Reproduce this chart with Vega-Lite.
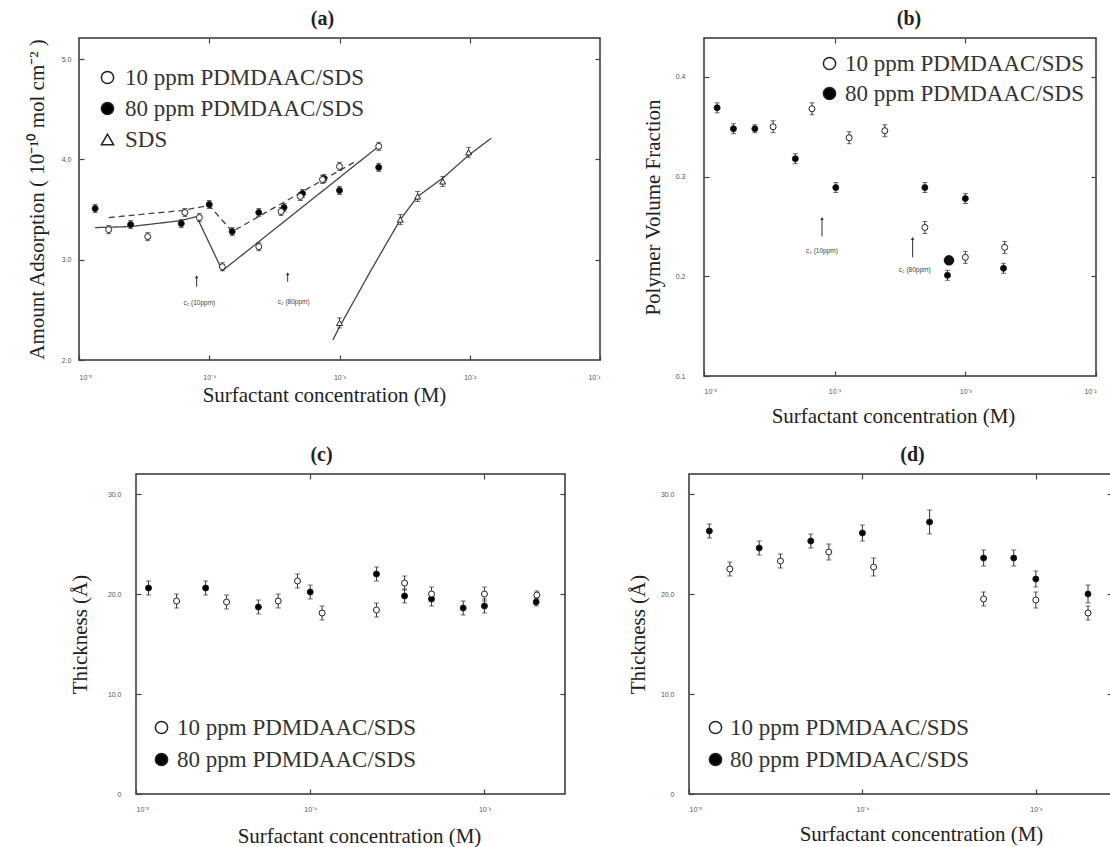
{
  "$schema": "https://vega.github.io/schema/vega-lite/v6.json",
  "padding": {"left": 24, "top": 8, "right": 0, "bottom": 0},
  "background": "white",
  "config": {
    "font": "Liberation Serif",
    "view": {"stroke": "#333", "strokeWidth": 1.5},
    "axis": {"domain": false, "grid": false, "tickSize": -5, "tickColor": "#444", "tickWidth": 1.2, "labelFontSize": 7, "labelColor": "#555", "labelFont": "Liberation Sans", "titleFontSize": 21, "titleFontWeight": "normal", "titleColor": "#222", "titleFont": "Liberation Serif"},
    "title": {"fontSize": 20, "fontWeight": "bold", "font": "Liberation Serif", "color": "#222", "offset": 8, "baseline": "bottom", "frame": "group"},
    "legend": {"labelFont": "Liberation Serif", "labelFontSize": 23, "labelColor": "#333", "labelLimit": 0, "symbolSize": 150, "padding": 0, "titlePadding": 0},
    "point": {"opacity": 1}
  },
  "datasets": {
    "a_pts": [
      {"x": 1.33e-5, "y": 3.51, "s": "80 ppm PDMDAAC/SDS", "e": 0.04},
      {"x": 2.49e-5, "y": 3.35, "s": "80 ppm PDMDAAC/SDS", "e": 0.04},
      {"x": 6.1e-5, "y": 3.36, "s": "80 ppm PDMDAAC/SDS", "e": 0.04},
      {"x": 1.0e-4, "y": 3.55, "s": "80 ppm PDMDAAC/SDS", "e": 0.04},
      {"x": 1.5e-4, "y": 3.28, "s": "80 ppm PDMDAAC/SDS", "e": 0.04},
      {"x": 2.4e-4, "y": 3.47, "s": "80 ppm PDMDAAC/SDS", "e": 0.04},
      {"x": 3.75e-4, "y": 3.52, "s": "80 ppm PDMDAAC/SDS", "e": 0.04},
      {"x": 5.2e-4, "y": 3.66, "s": "80 ppm PDMDAAC/SDS", "e": 0.04},
      {"x": 7.6e-4, "y": 3.81, "s": "80 ppm PDMDAAC/SDS", "e": 0.04},
      {"x": 1.0e-3, "y": 3.69, "s": "80 ppm PDMDAAC/SDS", "e": 0.04},
      {"x": 2.0e-3, "y": 3.92, "s": "80 ppm PDMDAAC/SDS", "e": 0.04},
      {"x": 1.69e-5, "y": 3.30, "s": "10 ppm PDMDAAC/SDS", "e": 0.04},
      {"x": 3.37e-5, "y": 3.23, "s": "10 ppm PDMDAAC/SDS", "e": 0.04},
      {"x": 6.5e-5, "y": 3.47, "s": "10 ppm PDMDAAC/SDS", "e": 0.04},
      {"x": 8.4e-5, "y": 3.42, "s": "10 ppm PDMDAAC/SDS", "e": 0.04},
      {"x": 1.26e-4, "y": 2.93, "s": "10 ppm PDMDAAC/SDS", "e": 0.04},
      {"x": 2.4e-4, "y": 3.13, "s": "10 ppm PDMDAAC/SDS", "e": 0.04},
      {"x": 3.56e-4, "y": 3.48, "s": "10 ppm PDMDAAC/SDS", "e": 0.04},
      {"x": 5.0e-4, "y": 3.63, "s": "10 ppm PDMDAAC/SDS", "e": 0.04},
      {"x": 7.4e-4, "y": 3.80, "s": "10 ppm PDMDAAC/SDS", "e": 0.04},
      {"x": 1.0e-3, "y": 3.93, "s": "10 ppm PDMDAAC/SDS", "e": 0.04},
      {"x": 2.0e-3, "y": 4.13, "s": "10 ppm PDMDAAC/SDS", "e": 0.04},
      {"x": 1.0e-3, "y": 2.37, "s": "SDS", "e": 0.05},
      {"x": 2.93e-3, "y": 3.40, "s": "SDS", "e": 0.05},
      {"x": 3.98e-3, "y": 3.63, "s": "SDS", "e": 0.05},
      {"x": 6.2e-3, "y": 3.78, "s": "SDS", "e": 0.05},
      {"x": 9.8e-3, "y": 4.07, "s": "SDS", "e": 0.05}
    ],
    "a_lines": [
      {"curve": "10 ppm fit", "x": 1.33e-5, "y": 3.32},
      {"curve": "10 ppm fit", "x": 2.49e-5, "y": 3.33},
      {"curve": "10 ppm fit", "x": 6.1e-5, "y": 3.39},
      {"curve": "10 ppm fit", "x": 8.0e-5, "y": 3.43},
      {"curve": "10 ppm fit", "x": 1.26e-4, "y": 2.89},
      {"curve": "10 ppm fit", "x": 2.0e-3, "y": 4.13},
      {"curve": "80 ppm fit", "x": 1.69e-5, "y": 3.42},
      {"curve": "80 ppm fit", "x": 6.1e-5, "y": 3.49},
      {"curve": "80 ppm fit", "x": 1.0e-4, "y": 3.54},
      {"curve": "80 ppm fit", "x": 1.5e-4, "y": 3.28},
      {"curve": "80 ppm fit", "x": 1.29e-3, "y": 3.97},
      {"curve": "SDS fit", "x": 8.9e-4, "y": 2.20},
      {"curve": "SDS fit", "x": 1.0e-3, "y": 2.33},
      {"curve": "SDS fit", "x": 1.72e-3, "y": 2.88},
      {"curve": "SDS fit", "x": 2.93e-3, "y": 3.40},
      {"curve": "SDS fit", "x": 3.98e-3, "y": 3.63},
      {"curve": "SDS fit", "x": 6.3e-3, "y": 3.82},
      {"curve": "SDS fit", "x": 1.0e-2, "y": 4.05},
      {"curve": "SDS fit", "x": 1.46e-2, "y": 4.21}
    ],
    "a_ann": [
      {"x": 8.0e-5, "y0": 2.73, "y1": 2.83, "lab": "c₂ (10ppm)", "lx": 8.4e-5, "ly": 2.57},
      {"x": 4.0e-4, "y0": 2.78, "y1": 2.86, "lab": "c₂ (80ppm)", "lx": 4.45e-4, "ly": 2.58}
    ],
    "b_pts": [
      {"x": 1.26e-5, "y": 0.369, "s": "80 ppm PDMDAAC/SDS", "e": 0.005},
      {"x": 1.68e-5, "y": 0.348, "s": "80 ppm PDMDAAC/SDS", "e": 0.005},
      {"x": 2.45e-5, "y": 0.348, "s": "80 ppm PDMDAAC/SDS", "e": 0.004},
      {"x": 5.0e-5, "y": 0.318, "s": "80 ppm PDMDAAC/SDS", "e": 0.005},
      {"x": 1.02e-4, "y": 0.289, "s": "80 ppm PDMDAAC/SDS", "e": 0.005},
      {"x": 4.9e-4, "y": 0.289, "s": "80 ppm PDMDAAC/SDS", "e": 0.005},
      {"x": 1.0e-3, "y": 0.278, "s": "80 ppm PDMDAAC/SDS", "e": 0.005},
      {"x": 7.3e-4, "y": 0.201, "s": "80 ppm PDMDAAC/SDS", "e": 0.005},
      {"x": 1.96e-3, "y": 0.208, "s": "80 ppm PDMDAAC/SDS", "e": 0.005},
      {"x": 3.38e-5, "y": 0.350, "s": "10 ppm PDMDAAC/SDS", "e": 0.006},
      {"x": 6.7e-5, "y": 0.368, "s": "10 ppm PDMDAAC/SDS", "e": 0.006},
      {"x": 1.29e-4, "y": 0.339, "s": "10 ppm PDMDAAC/SDS", "e": 0.006},
      {"x": 2.42e-4, "y": 0.346, "s": "10 ppm PDMDAAC/SDS", "e": 0.006},
      {"x": 4.9e-4, "y": 0.249, "s": "10 ppm PDMDAAC/SDS", "e": 0.006},
      {"x": 1.0e-3, "y": 0.219, "s": "10 ppm PDMDAAC/SDS", "e": 0.006},
      {"x": 2.0e-3, "y": 0.229, "s": "10 ppm PDMDAAC/SDS", "e": 0.006}
    ],
    "b_big": [
      {"x": 7.5e-4, "y": 0.216}
    ],
    "b_ann": [
      {"x": 8.0e-5, "y0": 0.240, "y1": 0.258, "lab": "c₂ (10ppm)", "lx": 8.0e-5, "ly": 0.2257},
      {"x": 3.95e-4, "y0": 0.219, "y1": 0.238, "lab": "c₂ (80ppm)", "lx": 4.1e-4, "ly": 0.2067}
    ],
    "c_pts": [
      {"x": 1.18e-5, "y": 20.6, "s": "80 ppm PDMDAAC/SDS", "e": 0.7},
      {"x": 2.51e-5, "y": 20.6, "s": "80 ppm PDMDAAC/SDS", "e": 0.7},
      {"x": 5.04e-5, "y": 18.7, "s": "80 ppm PDMDAAC/SDS", "e": 0.7},
      {"x": 1.0e-4, "y": 20.2, "s": "80 ppm PDMDAAC/SDS", "e": 0.7},
      {"x": 2.4e-4, "y": 22.0, "s": "80 ppm PDMDAAC/SDS", "e": 0.7},
      {"x": 3.48e-4, "y": 19.8, "s": "80 ppm PDMDAAC/SDS", "e": 0.7},
      {"x": 4.97e-4, "y": 19.5, "s": "80 ppm PDMDAAC/SDS", "e": 0.7},
      {"x": 7.55e-4, "y": 18.6, "s": "80 ppm PDMDAAC/SDS", "e": 0.7},
      {"x": 1.0e-3, "y": 18.8, "s": "80 ppm PDMDAAC/SDS", "e": 0.7},
      {"x": 1.98e-3, "y": 19.2, "s": "80 ppm PDMDAAC/SDS", "e": 0.4},
      {"x": 1.71e-5, "y": 19.3, "s": "10 ppm PDMDAAC/SDS", "e": 0.7},
      {"x": 3.31e-5, "y": 19.2, "s": "10 ppm PDMDAAC/SDS", "e": 0.7},
      {"x": 6.55e-5, "y": 19.3, "s": "10 ppm PDMDAAC/SDS", "e": 0.7},
      {"x": 8.45e-5, "y": 21.3, "s": "10 ppm PDMDAAC/SDS", "e": 0.7},
      {"x": 1.17e-4, "y": 18.1, "s": "10 ppm PDMDAAC/SDS", "e": 0.7},
      {"x": 2.4e-4, "y": 18.4, "s": "10 ppm PDMDAAC/SDS", "e": 0.7},
      {"x": 3.48e-4, "y": 21.1, "s": "10 ppm PDMDAAC/SDS", "e": 0.7},
      {"x": 4.97e-4, "y": 20.0, "s": "10 ppm PDMDAAC/SDS", "e": 0.7},
      {"x": 1.0e-3, "y": 20.0, "s": "10 ppm PDMDAAC/SDS", "e": 0.7},
      {"x": 2.0e-3, "y": 19.9, "s": "10 ppm PDMDAAC/SDS", "e": 0.4}
    ],
    "d_pts": [
      {"x": 1.31e-5, "y": 26.3, "s": "80 ppm PDMDAAC/SDS", "e": 0.7},
      {"x": 2.54e-5, "y": 24.6, "s": "80 ppm PDMDAAC/SDS", "e": 0.7},
      {"x": 5.04e-5, "y": 25.3, "s": "80 ppm PDMDAAC/SDS", "e": 0.7},
      {"x": 1.0e-4, "y": 26.1, "s": "80 ppm PDMDAAC/SDS", "e": 0.8},
      {"x": 2.44e-4, "y": 27.2, "s": "80 ppm PDMDAAC/SDS", "e": 1.2},
      {"x": 5.0e-4, "y": 23.6, "s": "80 ppm PDMDAAC/SDS", "e": 0.8},
      {"x": 7.46e-4, "y": 23.6, "s": "80 ppm PDMDAAC/SDS", "e": 0.8},
      {"x": 1.0e-3, "y": 21.5, "s": "80 ppm PDMDAAC/SDS", "e": 0.8},
      {"x": 2.0e-3, "y": 20.0, "s": "80 ppm PDMDAAC/SDS", "e": 0.9},
      {"x": 1.72e-5, "y": 22.5, "s": "10 ppm PDMDAAC/SDS", "e": 0.7},
      {"x": 3.37e-5, "y": 23.3, "s": "10 ppm PDMDAAC/SDS", "e": 0.7},
      {"x": 6.4e-5, "y": 24.2, "s": "10 ppm PDMDAAC/SDS", "e": 0.8},
      {"x": 1.16e-4, "y": 22.7, "s": "10 ppm PDMDAAC/SDS", "e": 0.9},
      {"x": 5.0e-4, "y": 19.5, "s": "10 ppm PDMDAAC/SDS", "e": 0.7},
      {"x": 1.0e-3, "y": 19.4, "s": "10 ppm PDMDAAC/SDS", "e": 0.8},
      {"x": 2.0e-3, "y": 18.1, "s": "10 ppm PDMDAAC/SDS", "e": 0.7}
    ]
  },
  "spacing": 17,
  "resolve": {"scale": {"shape": "independent", "fill": "independent", "strokeDash": "independent"}, "legend": {"shape": "independent", "fill": "independent"}},
  "vconcat": [
    {
      "spacing": 39,
      "resolve": {"scale": {"shape": "independent", "fill": "independent"}, "legend": {"shape": "independent", "fill": "independent"}},
      "hconcat": [
        {
          "spacing": 0,
          "resolve": {"scale": {"shape": "independent", "fill": "independent"}, "legend": {"shape": "independent", "fill": "independent"}},
          "hconcat": [
            {"width": 1, "height": 1, "view": {"stroke": null}, "data": {"values": []}, "mark": "point", "encoding": {}},
            {
              "title": {"text": "(a)", "dx": -17},
              "width": 521,
              "height": 322,
              "resolve": {"axis": {"x": "independent", "y": "independent"}},
              "layer": [
                {
                  "data": {"name": "a_lines"},
                  "mark": {"type": "line", "color": "#444", "strokeWidth": 1.3},
                  "encoding": {
                    "x": {"field": "x", "type": "quantitative", "scale": {"type": "log", "domain": [1e-5, 0.1], "nice": false},
                      "axis": {"values": [1e-5, 1e-4, 1e-3, 1e-2, 1e-1], "labelExpr": "'10' + (datum.value < 5e-5 ? '⁻⁵' : datum.value < 5e-4 ? '⁻⁴' : datum.value < 5e-3 ? '⁻³' : datum.value < 5e-2 ? '⁻²' : '⁻¹')", "labelPadding": 18, "title": "Surfactant concentration (M)", "titleX": 245, "titleY": 35, "titleAlign": "center", "titleBaseline": "middle"}},
                    "y": {"field": "y", "type": "quantitative", "scale": {"domain": [2, 5.21], "nice": false, "zero": false},
                      "axis": {"values": [2, 3, 4, 5], "format": ".1f", "labelPadding": 13, "title": "Amount Adsorption ( 10⁻¹⁰ mol cm⁻² )", "titleX": -42, "titleBaseline": "middle"}},
                    "detail": {"field": "curve"},
                    "strokeDash": {"field": "curve", "scale": {"domain": ["10 ppm fit", "80 ppm fit", "SDS fit"], "range": [[1, 0], [6, 4], [1, 0]]}, "legend": null}
                  }
                },
                {
                  "data": {"name": "a_ann"},
                  "mark": {"type": "rule", "color": "#333", "strokeWidth": 1},
                  "encoding": {"x": {"field": "x", "type": "quantitative", "axis": null}, "y": {"field": "y0", "type": "quantitative", "axis": null}, "y2": {"field": "y1"}}
                },
                {
                  "data": {"name": "a_ann"},
                  "mark": {"type": "point", "shape": "triangle-up", "filled": true, "color": "#333", "size": 12},
                  "encoding": {"x": {"field": "x", "type": "quantitative", "axis": null}, "y": {"field": "y1", "type": "quantitative", "axis": null}}
                },
                {
                  "data": {"name": "a_ann"},
                  "mark": {"type": "text", "fontSize": 6.5, "color": "#444", "font": "Liberation Sans"},
                  "encoding": {"x": {"field": "lx", "type": "quantitative", "axis": null}, "y": {"field": "ly", "type": "quantitative", "axis": null}, "text": {"field": "lab"}}
                },
                {
                  "data": {"name": "a_pts"},
                  "mark": {"type": "errorbar", "ticks": {"size": 5}, "color": "#333"},
                  "encoding": {"x": {"field": "x", "type": "quantitative", "axis": null}, "y": {"field": "y", "type": "quantitative", "axis": null}, "yError": {"field": "e"}}
                },
                {
                  "data": {"name": "a_pts"},
                  "mark": {"type": "point", "filled": true, "size": 36, "stroke": "#222", "strokeWidth": 1, "opacity": 1},
                  "encoding": {
                    "x": {"field": "x", "type": "quantitative", "axis": {"orient": "top", "labels": false, "title": null, "values": [1e-4, 1e-3, 1e-2]}},
                    "y": {"field": "y", "type": "quantitative", "axis": {"orient": "right", "labels": false, "title": null, "values": [3, 4, 5]}},
                    "shape": {"field": "s", "scale": {"domain": ["10 ppm PDMDAAC/SDS", "80 ppm PDMDAAC/SDS", "SDS"], "range": ["circle", "circle", "triangle-up"]},
                      "legend": {"title": null, "orient": "none", "legendX": 17, "legendY": 28, "rowPadding": 7, "labelOffset": 6, "labelFont": "Liberation Serif", "labelFontSize": 23, "encode": {"symbols": {"update": {"stroke": {"value": "#444"}, "strokeWidth": {"value": 1.3}, "opacity": {"value": 1}}}}}},
                    "fill": {"field": "s", "scale": {"domain": ["10 ppm PDMDAAC/SDS", "80 ppm PDMDAAC/SDS", "SDS"], "range": ["white", "black", "white"]},
                      "legend": {"title": null, "orient": "none", "legendX": 17, "legendY": 28, "rowPadding": 7, "labelOffset": 6, "labelFont": "Liberation Serif", "labelFontSize": 23, "encode": {"symbols": {"update": {"stroke": {"value": "#444"}, "strokeWidth": {"value": 1.3}, "opacity": {"value": 1}}}}}}
                  }
                }
              ]
            }
          ]
        },
        {
          "title": {"text": "(b)", "dx": 9},
          "width": 392,
          "height": 338,
          "resolve": {"axis": {"x": "independent", "y": "independent"}},
          "layer": [
            {
              "data": {"name": "b_ann"},
              "mark": {"type": "rule", "color": "#333", "strokeWidth": 1},
              "encoding": {
                "x": {"field": "x", "type": "quantitative", "scale": {"type": "log", "domain": [1e-5, 1e-2], "nice": false},
                  "axis": {"values": [1e-5, 1e-4, 1e-3, 1e-2], "labelExpr": "'10' + (datum.value < 5e-5 ? '⁻⁵' : datum.value < 5e-4 ? '⁻⁴' : datum.value < 5e-3 ? '⁻³' : '⁻²')", "labelPadding": 16.5, "title": "Surfactant concentration (M)", "titleX": 189, "titleY": 40, "titleAlign": "center", "titleBaseline": "middle"}},
                "y": {"field": "y0", "type": "quantitative", "scale": {"domain": [0.1, 0.439], "nice": false, "zero": false},
                  "axis": {"values": [0.1, 0.2, 0.3, 0.4], "format": ".1f", "labelPadding": 24, "title": "Polymer Volume Fraction", "titleX": -51, "titleBaseline": "middle"}},
                "y2": {"field": "y1"}
              }
            },
            {
              "data": {"name": "b_ann"},
              "mark": {"type": "point", "shape": "triangle-up", "filled": true, "color": "#333", "size": 12},
              "encoding": {"x": {"field": "x", "type": "quantitative", "axis": null}, "y": {"field": "y1", "type": "quantitative", "axis": null}}
            },
            {
              "data": {"name": "b_ann"},
              "mark": {"type": "text", "fontSize": 6.5, "color": "#444", "font": "Liberation Sans"},
              "encoding": {"x": {"field": "lx", "type": "quantitative", "axis": null}, "y": {"field": "ly", "type": "quantitative", "axis": null}, "text": {"field": "lab"}}
            },
            {
              "data": {"name": "b_pts"},
              "mark": {"type": "errorbar", "ticks": {"size": 5}, "color": "#333"},
              "encoding": {"x": {"field": "x", "type": "quantitative", "axis": null}, "y": {"field": "y", "type": "quantitative", "axis": null}, "yError": {"field": "e"}}
            },
            {
              "data": {"name": "b_big"},
              "mark": {"type": "point", "filled": true, "size": 110, "color": "#111", "opacity": 1},
              "encoding": {"x": {"field": "x", "type": "quantitative", "axis": null}, "y": {"field": "y", "type": "quantitative", "axis": null}}
            },
            {
              "data": {"name": "b_pts"},
              "mark": {"type": "point", "filled": true, "size": 36, "stroke": "#222", "strokeWidth": 1, "opacity": 1},
              "encoding": {
                "x": {"field": "x", "type": "quantitative", "axis": {"orient": "top", "labels": false, "title": null, "values": [1e-4, 1e-3]}},
                "y": {"field": "y", "type": "quantitative", "axis": {"orient": "right", "labels": false, "title": null, "values": [0.2, 0.3, 0.4]}},
                "shape": {"field": "s", "scale": {"domain": ["10 ppm PDMDAAC/SDS", "80 ppm PDMDAAC/SDS"], "range": ["circle", "circle"]},
                  "legend": {"title": null, "orient": "none", "legendX": 114, "legendY": 14, "rowPadding": 6, "labelOffset": 4, "labelFont": "Liberation Serif", "labelFontSize": 23, "encode": {"symbols": {"update": {"stroke": {"value": "#444"}, "strokeWidth": {"value": 1.3}, "opacity": {"value": 1}}}}}},
                "fill": {"field": "s", "scale": {"domain": ["10 ppm PDMDAAC/SDS", "80 ppm PDMDAAC/SDS"], "range": ["white", "black"]},
                  "legend": {"title": null, "orient": "none", "legendX": 114, "legendY": 14, "rowPadding": 6, "labelOffset": 4, "labelFont": "Liberation Serif", "labelFontSize": 23, "encode": {"symbols": {"update": {"stroke": {"value": "#444"}, "strokeWidth": {"value": 1.3}, "opacity": {"value": 1}}}}}}
              }
            }
          ]
        }
      ]
    },
    {
      "spacing": 59,
      "resolve": {"scale": {"shape": "independent", "fill": "independent"}, "legend": {"shape": "independent", "fill": "independent"}},
      "hconcat": [
        {
          "spacing": 0,
          "resolve": {"scale": {"shape": "independent", "fill": "independent"}, "legend": {"shape": "independent", "fill": "independent"}},
          "hconcat": [
            {"width": 44, "height": 1, "view": {"stroke": null}, "data": {"values": []}, "mark": "point", "encoding": {}},
            {
              "title": {"text": "(c)", "dx": -29},
              "width": 429,
              "height": 320,
              "resolve": {"axis": {"x": "independent", "y": "independent"}},
              "layer": [
                {
                  "data": {"name": "c_pts"},
                  "mark": {"type": "errorbar", "ticks": {"size": 5}, "color": "#333"},
                  "encoding": {
                    "x": {"field": "x", "type": "quantitative", "scale": {"type": "log", "domain": [1e-5, 2.9e-3], "nice": false},
                      "axis": {"values": [1e-5, 1e-4, 1e-3], "labelExpr": "'10' + (datum.value < 5e-5 ? '⁻⁵' : datum.value < 5e-4 ? '⁻⁴' : '⁻³')", "labelPadding": 16.5, "title": "Surfactant concentration (M)", "titleX": 223, "titleY": 42, "titleAlign": "center", "titleBaseline": "middle"}},
                    "y": {"field": "y", "type": "quantitative", "scale": {"domain": [0, 32], "nice": false, "zero": false},
                      "axis": {"values": [0, 10, 20, 30], "labelExpr": "datum.value == 0 ? '0' : format(datum.value, '.1f')", "labelPadding": 20, "title": "Thickness (Å)", "titleX": -56, "titleBaseline": "middle"}},
                    "yError": {"field": "e"}
                  }
                },
                {
                  "data": {"name": "c_pts"},
                  "mark": {"type": "point", "filled": true, "size": 36, "stroke": "#222", "strokeWidth": 1, "opacity": 1},
                  "encoding": {
                    "x": {"field": "x", "type": "quantitative", "axis": {"orient": "top", "labels": false, "title": null, "values": [1e-4, 1e-3]}},
                    "y": {"field": "y", "type": "quantitative", "axis": {"orient": "right", "labels": false, "title": null, "values": [10, 20, 30]}},
                    "shape": {"field": "s", "scale": {"domain": ["10 ppm PDMDAAC/SDS", "80 ppm PDMDAAC/SDS"], "range": ["circle", "circle"]},
                      "legend": {"title": null, "orient": "none", "legendX": 14, "legendY": 242, "rowPadding": 8, "labelOffset": 4, "labelFont": "Liberation Serif", "labelFontSize": 23, "encode": {"symbols": {"update": {"stroke": {"value": "#444"}, "strokeWidth": {"value": 1.3}, "opacity": {"value": 1}}}}}},
                    "fill": {"field": "s", "scale": {"domain": ["10 ppm PDMDAAC/SDS", "80 ppm PDMDAAC/SDS"], "range": ["white", "black"]},
                      "legend": {"title": null, "orient": "none", "legendX": 14, "legendY": 242, "rowPadding": 8, "labelOffset": 4, "labelFont": "Liberation Serif", "labelFontSize": 23, "encode": {"symbols": {"update": {"stroke": {"value": "#444"}, "strokeWidth": {"value": 1.3}, "opacity": {"value": 1}}}}}}
                  }
                }
              ]
            }
          ]
        },
        {
          "title": {"text": "(d)", "dx": 12},
          "width": 423,
          "height": 320,
          "resolve": {"axis": {"x": "independent", "y": "independent"}},
          "layer": [
            {
              "data": {"name": "d_pts"},
              "mark": {"type": "errorbar", "ticks": {"size": 5}, "color": "#333"},
              "encoding": {
                "x": {"field": "x", "type": "quantitative", "scale": {"type": "log", "domain": [1e-5, 2.75e-3], "nice": false},
                  "axis": {"values": [1e-5, 1e-4, 1e-3], "labelExpr": "'10' + (datum.value < 5e-5 ? '⁻⁵' : datum.value < 5e-4 ? '⁻⁴' : '⁻³')", "labelPadding": 16.5, "title": "Surfactant concentration (M)", "titleX": 232, "titleY": 40, "titleAlign": "center", "titleBaseline": "middle"}},
                "y": {"field": "y", "type": "quantitative", "scale": {"domain": [0, 32], "nice": false, "zero": false},
                  "axis": {"values": [0, 10, 20, 30], "labelExpr": "datum.value == 0 ? '0' : format(datum.value, '.1f')", "labelPadding": 20, "title": "Thickness (Å)", "titleX": -51, "titleBaseline": "middle"}},
                "yError": {"field": "e"}
              }
            },
            {
              "data": {"name": "d_pts"},
              "mark": {"type": "point", "filled": true, "size": 36, "stroke": "#222", "strokeWidth": 1, "opacity": 1},
              "encoding": {
                "x": {"field": "x", "type": "quantitative", "axis": {"orient": "top", "labels": false, "title": null, "values": [1e-4, 1e-3]}},
                "y": {"field": "y", "type": "quantitative", "axis": {"orient": "right", "labels": false, "title": null, "values": [10, 20, 30]}},
                "shape": {"field": "s", "scale": {"domain": ["10 ppm PDMDAAC/SDS", "80 ppm PDMDAAC/SDS"], "range": ["circle", "circle"]},
                  "legend": {"title": null, "orient": "none", "legendX": 15, "legendY": 242, "rowPadding": 8, "labelOffset": 3, "labelFont": "Liberation Serif", "labelFontSize": 23, "encode": {"symbols": {"update": {"stroke": {"value": "#444"}, "strokeWidth": {"value": 1.3}, "opacity": {"value": 1}}}}}},
                "fill": {"field": "s", "scale": {"domain": ["10 ppm PDMDAAC/SDS", "80 ppm PDMDAAC/SDS"], "range": ["white", "black"]},
                  "legend": {"title": null, "orient": "none", "legendX": 15, "legendY": 242, "rowPadding": 8, "labelOffset": 3, "labelFont": "Liberation Serif", "labelFontSize": 23, "encode": {"symbols": {"update": {"stroke": {"value": "#444"}, "strokeWidth": {"value": 1.3}, "opacity": {"value": 1}}}}}}
              }
            }
          ]
        }
      ]
    }
  ]
}
